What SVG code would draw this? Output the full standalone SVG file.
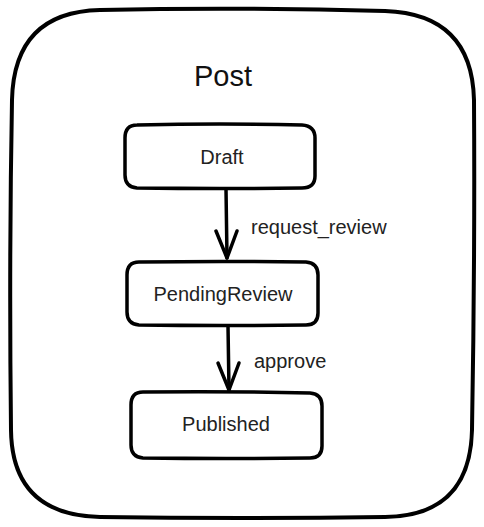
<svg xmlns="http://www.w3.org/2000/svg" width="484" height="527" viewBox="0 0 484 527">
<style>
.box{fill:#fff;stroke:#000;stroke-width:3.5;stroke-linejoin:round;stroke-linecap:round}
.lbl{font-family:"Liberation Sans",Arial,sans-serif;font-size:20px;fill:#222;text-anchor:middle}
.edge{fill:none;stroke:#000;stroke-width:3.5;stroke-linecap:round;stroke-linejoin:round}
.elbl{font-family:"Liberation Sans",Arial,sans-serif;font-size:20px;fill:#222}
</style>
<rect width="484" height="527" fill="#fff"/>
<g id="post">
<path class="box" style="stroke-width:4" d="M100,10 Q240,7 385,11 Q472,14 474,100 Q475,260 472,430 Q470,516 385,517 Q240,519 100,517 Q12,515 11,430 Q9,260 12,100 Q14,12 100,10 Z"/>
<text x="223" y="86" style="font-family:'Liberation Sans',Arial,sans-serif;font-size:29px;fill:#111;text-anchor:middle">Post</text>
</g>
<g id="draft">
<path class="box" d="M137,125 Q220,123 302,125 Q315,126 315,138 L315,176 Q315,188 302,188 Q220,189 137,188 Q125,187 125,175 L125,138 Q125,125 137,125 Z"/>
<text class="lbl" x="222" y="164">Draft</text>
</g>
<g id="pendingreview">
<path class="box" d="M139,262 Q222,261 306,262 Q318,263 318,275 L318,313 Q318,325 306,325 Q222,326 139,325 Q127,324 127,312 L127,275 Q127,262 139,262 Z"/>
<text class="lbl" x="223" y="301">PendingReview</text>
</g>
<g id="published">
<path class="box" d="M143,392 Q226,391 310,393 Q322,394 322,406 L322,446 Q322,458 310,458 Q226,459 143,458 Q131,457 131,445 L131,405 Q131,392 143,392 Z"/>
<text class="lbl" x="226" y="431">Published</text>
</g>
<g id="connectors">
<path class="edge" d="M226,189 L227,258"/>
<path class="edge" d="M216,231 L227,258 L237,231"/>
<text class="elbl" x="251" y="234">request_review</text>
<path class="edge" d="M228,326 L229,390"/>
<path class="edge" d="M218,363 L229,390 L239,363"/>
<text class="elbl" x="254" y="368">approve</text>
</g>
</svg>
